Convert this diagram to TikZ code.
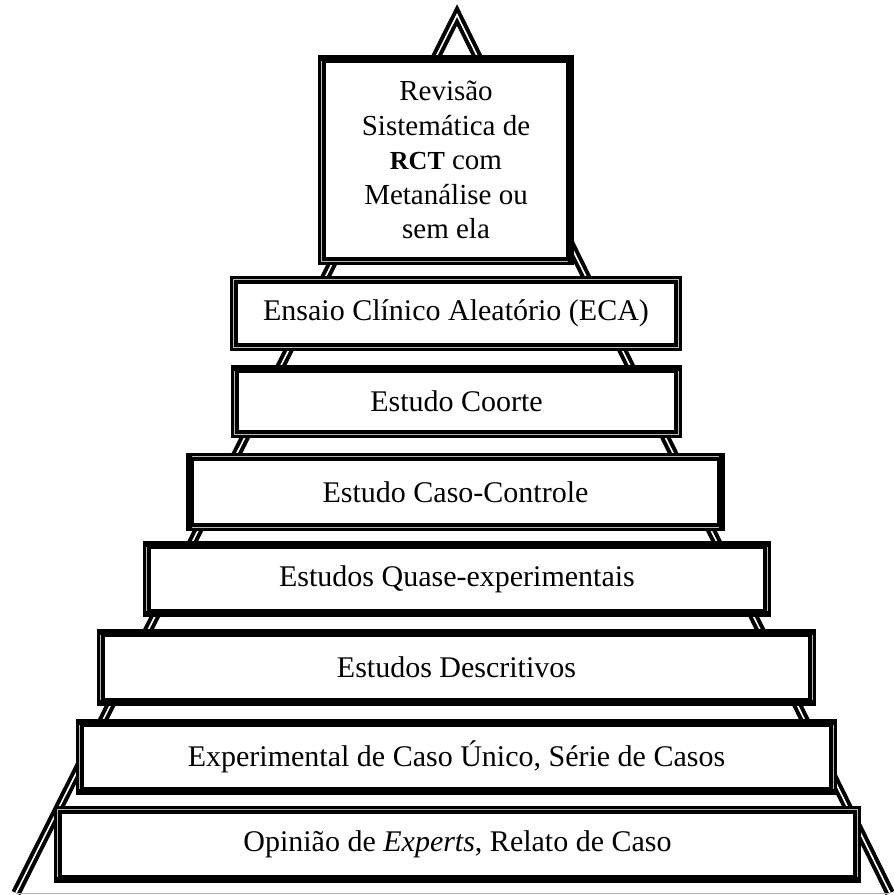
\documentclass[tikz,border=0pt]{standalone}
\usepackage{fontspec}
\setmainfont{Liberation Serif}
\begin{document}
\begin{tikzpicture}[x=1pt,y=-1pt,
  box/.style={draw, line width=3.4pt, double=gray!55, double distance=1pt,
    fill=white, inner sep=0pt, outer sep=0pt, align=center,
    font=\fontsize{30}{34.5}\selectfont},
  thk/.style={line width=5pt, line cap=rect},
  tri/.style={line width=4pt, double=white, double distance=1.6pt, line join=miter},
  baseline/.style={gray!60, line width=1pt}]
\useasboundingbox (0,0) rectangle (894,895);
% pyramid outline
\coordinate (apex) at (457,15);
\coordinate (bl) at (16,893);
\coordinate (br) at (890,893);
\draw[tri] (bl) -- (apex) -- (br);
\draw[baseline] (bl) -- (br);
% boxes: centre = midpoint of outer extents, size = extents - line width
\node[box, font=\fontsize{29}{34.5}\selectfont, minimum width=248.6pt, minimum height=202.6pt] (b1) at (446,160)
  {Revisão\\Sistemática de\\{\fontsize{26}{34.5}\selectfont\bfseries RCT} com\\Metanálise ou\\sem ela};
\node[box, minimum width=444.6pt, minimum height=67.6pt] (b2) at (456,313.5)
  {Ensaio Clínico Aleatório (ECA)};
\node[box, minimum width=443.6pt, minimum height=65.6pt] (b3) at (456.5,401.5)
  {Estudo Coorte};
\node[box, minimum width=531.6pt, minimum height=70.6pt] (b4) at (455.5,492)
  {Estudo Caso-Controle};
\node[box, minimum width=620.6pt, minimum height=68.6pt] (b5) at (457,579)
  {Estudos Quase-experimentais};
\node[box, minimum width=711.6pt, minimum height=69.6pt] (b6) at (456.5,667.5)
  {Estudos Descritivos};
\node[box, minimum width=753.6pt, minimum height=68.6pt] (b7) at (456.5,757)
  {Experimental de Caso Único, Série de Casos};
\node[box, minimum width=799.6pt, minimum height=69.6pt] (b8) at (457.5,844.5)
  {Opinião de \textit{Experts}, Relato de Caso};
% heavy edges
\draw[thk] (b1.north west) -- (b1.north east) -- (b1.south east);
\draw[thk] (b3.north west) -- (b3.north east);
\draw[thk] (b4.north west) -- (b4.south west);
\draw[thk] (b4.north east) -- (b4.south east);
\draw[thk] (b5.north west) -- (b5.north east);
\draw[thk] (b5.south west) -- (b5.south east);
\draw[thk] (b6.north west) -- (b6.north east);
\draw[thk] (b6.south west) -- (b6.south east);
\draw[thk] (b7.north west) -- (b7.north east);
\draw[thk] (b7.south west) -- (b7.south east);
\draw[thk] (b8.south west) -- (b8.south east);
\end{tikzpicture}
\end{document}
